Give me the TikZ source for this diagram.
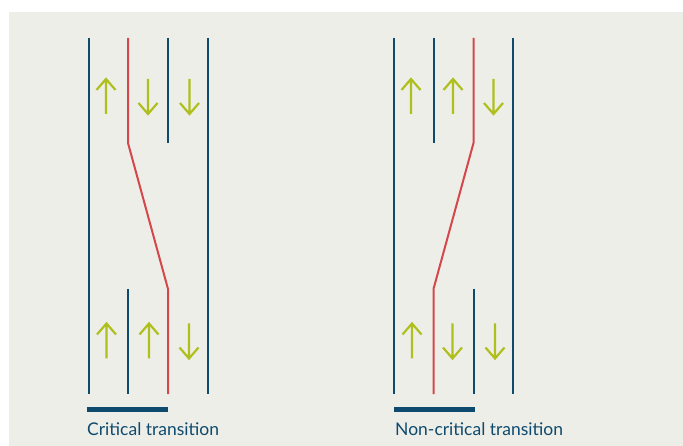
\documentclass[tikz,border=0pt]{standalone}
\usepackage{fontspec}
\setmainfont{Lato}
\definecolor{bgpanel}{HTML}{EEEEE8}
\definecolor{laneblue}{HTML}{0E4A6E}
\definecolor{lanered}{HTML}{D4474A}
\definecolor{flowgreen}{HTML}{AFC01E}
\begin{document}
\begin{tikzpicture}[x=1pt,y=-1pt,
  lane/.style={draw=laneblue,line width=2pt},
  redlane/.style={draw=lanered,line width=2pt,line join=round},
  flow/.style={draw=flowgreen,line width=2.2pt,line join=miter},
  bar/.style={draw=laneblue,line width=5pt},
  caption/.style={anchor=base west,inner sep=0pt,text=laneblue,font=\fontsize{17.5}{20}\selectfont},
  up/.pic={\draw[flow] (0,17.5)--(0,-17.5) (-9.5,-6.5)--(0,-17.5)--(9.5,-6.5);},
  down/.pic={\draw[flow] (0,-17.5)--(0,17.5) (-9.5,6.5)--(0,17.5)--(9.5,6.5);}
]
\useasboundingbox (0,0) rectangle (683,446);
\fill[white] (0,0) rectangle (683,446);
\fill[bgpanel] (9,12) rectangle (683,446);

% ---------- left: critical transition ----------
\coordinate (La1) at (89,38);  \coordinate (La2) at (89,394);
\coordinate (Lb1) at (128,38); \coordinate (Lb2) at (128,143);
\coordinate (Lb3) at (168,289); \coordinate (Lb4) at (168,394);
\coordinate (Lc1) at (168,38); \coordinate (Lc2) at (168,143);
\coordinate (Ld1) at (128,289); \coordinate (Ld2) at (128,394);
\coordinate (Le1) at (208,38); \coordinate (Le2) at (208,394);
\draw[lane] (La1) -- (La2);
\draw[lane] (Lc1) -- (Lc2);
\draw[lane] (Ld1) -- (Ld2);
\draw[lane] (Le1) -- (Le2);
\draw[redlane] (Lb1) -- (Lb2) -- (Lb3) -- (Lb4);
\pic at (106,96.5) {up};
\pic at (148,96.5) {down};
\pic at (189.5,96.5) {down};
\pic at (106.5,341) {up};
\pic at (149,341) {up};
\pic at (189,341) {down};
\coordinate (Lbar1) at (86.5,409.5); \coordinate (Lbar2) at (167.5,409.5);
\draw[bar] (Lbar1) -- (Lbar2);
\node[caption] (Lcap) at (87,435) {Critical transition};

% ---------- right: non-critical transition ----------
\coordinate (Ra1) at (393.5,38); \coordinate (Ra2) at (393.5,394);
\coordinate (Rb1) at (433.5,38); \coordinate (Rb2) at (433.5,143);
\coordinate (Rc1) at (473.5,38); \coordinate (Rc2) at (473.5,143);
\coordinate (Rc3) at (433.5,289); \coordinate (Rc4) at (433.5,394);
\coordinate (Rd1) at (473.5,289); \coordinate (Rd2) at (473.5,394);
\coordinate (Re1) at (513,38); \coordinate (Re2) at (513,394);
\draw[lane] (Ra1) -- (Ra2);
\draw[lane] (Rb1) -- (Rb2);
\draw[lane] (Rd1) -- (Rd2);
\draw[lane] (Re1) -- (Re2);
\draw[redlane] (Rc1) -- (Rc2) -- (Rc3) -- (Rc4);
\pic at (411,96.5) {up};
\pic at (453,96.5) {up};
\pic at (493.5,96.5) {down};
\pic at (412,341) {up};
\pic at (452.5,341) {down};
\pic at (495,341) {down};
\coordinate (Rbar1) at (394,409.5); \coordinate (Rbar2) at (475,409.5);
\draw[bar] (Rbar1) -- (Rbar2);
\node[caption] (Rcap) at (395,435) {Non-critical transition};
\end{tikzpicture}
\end{document}
